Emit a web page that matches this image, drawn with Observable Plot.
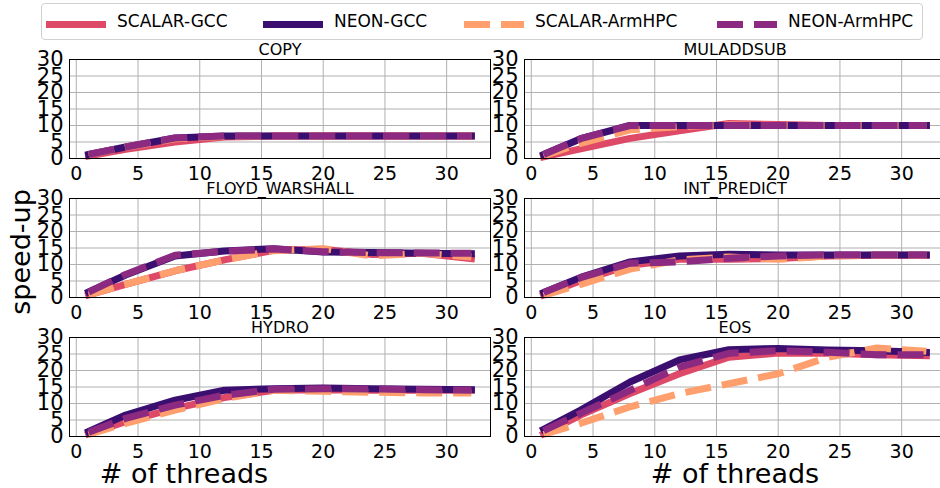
<!DOCTYPE html>
<html><head><meta charset="utf-8">
<script src="https://cdn.jsdelivr.net/npm/d3@7"></script>
<script src="https://cdn.jsdelivr.net/npm/@observablehq/plot@0.6"></script>
<style>
html,body{margin:0;padding:0;background:#fff;overflow:hidden;}
#chart{position:relative;width:940px;height:488px;overflow:hidden;font-family:"DejaVu Sans",sans-serif;color:#000;}
.panel{position:absolute;}
.lbl{position:absolute;white-space:nowrap;font-size:27px;line-height:1;}
#legend{position:absolute;left:41px;top:3px;width:880px;height:35px;border:1px solid #d0d0d0;border-radius:4px;background:#fff;}
.li{position:absolute;top:0;height:35px;}
.li span{position:absolute;top:9px;font-size:17px;line-height:1;white-space:nowrap;}
</style></head><body><div id="chart"></div>
<script>
const threads = [1, 4, 8, 12, 16, 20, 24, 28, 32];
const series = ["SCALAR-GCC", "NEON-GCC", "SCALAR-ArmHPC", "NEON-ArmHPC"];
const colors = ["#de4968", "#3b0f70", "#fe9f6d", "#8c2981"];
const benchmarks = ["COPY", "MULADDSUB", "FLOYD_WARSHALL", "INT_PREDICT", "HYDRO", "EOS"];
const xTicks = [0, 5, 10, 15, 20, 25, 30];
const yTicks = [0, 5, 10, 15, 20, 25, 30];

// speed-up values, order: SCALAR-GCC, NEON-GCC, SCALAR-ArmHPC, NEON-ArmHPC
const copy = [
  [0.8, 2.8, 5.0, 6.5, 6.8, 6.8, 6.8, 6.8, 6.8],
  [1.2, 3.5, 6.2, 6.8, 6.8, 6.8, 6.8, 6.8, 6.8],
  [1.1, 3.4, 6.0, 6.7, 6.8, 6.8, 6.8, 6.8, 6.8],
  [1.2, 3.5, 6.2, 6.8, 6.8, 6.8, 6.8, 6.8, 6.8]
];
const muladdsub = [
  [0.5, 2.9, 6.1, 8.4, 10.6, 10.3, 10.0, 10.0, 10.0],
  [1.2, 6.0, 10.0, 10.0, 10.0, 10.0, 10.0, 10.0, 10.0],
  [0.8, 4.6, 8.7, 9.7, 10.2, 10.0, 10.0, 10.0, 10.0],
  [1.2, 6.0, 10.0, 10.0, 10.0, 10.0, 10.0, 10.0, 10.0]
];
const floydWarshall = [
  [0.8, 4.0, 8.1, 11.4, 14.3, 14.6, 13.0, 13.4, 11.8],
  [1.7, 6.8, 12.6, 14.1, 14.8, 13.8, 13.6, 13.4, 13.3],
  [0.8, 4.0, 8.1, 11.4, 14.2, 14.8, 12.6, 13.4, 12.3],
  [1.6, 7.0, 12.8, 14.0, 14.7, 13.9, 13.6, 13.5, 13.4]
];
const intPredict = [
  [0.8, 5.1, 9.8, 11.6, 11.6, 11.8, 12.6, 12.8, 12.8],
  [1.5, 6.1, 10.8, 12.6, 13.1, 12.9, 12.9, 12.9, 12.9],
  [0.6, 4.0, 8.6, 11.4, 12.3, 11.6, 12.6, 12.8, 12.8],
  [1.5, 6.0, 10.4, 10.8, 11.9, 12.6, 12.9, 12.9, 12.9]
];
const hydro = [
  [0.8, 4.5, 8.5, 11.8, 14.0, 14.2, 14.0, 14.0, 14.0],
  [1.5, 6.5, 11.0, 14.0, 14.5, 14.7, 14.5, 14.3, 14.2],
  [0.6, 4.0, 8.0, 11.5, 14.0, 13.7, 13.4, 13.2, 13.2],
  [1.3, 5.5, 9.5, 12.5, 14.3, 14.5, 14.4, 14.2, 14.0]
];
const eos = [
  [0.8, 6.5, 13.0, 19.0, 24.0, 25.3, 25.2, 24.8, 24.5],
  [2.2, 8.0, 16.5, 23.2, 26.3, 26.7, 26.2, 26.0, 25.5],
  [0.6, 4.0, 9.0, 13.0, 16.0, 19.0, 24.0, 26.8, 25.8],
  [1.8, 7.0, 14.0, 21.0, 25.2, 26.0, 25.5, 24.8, 24.8]
];
const allData = [copy, muladdsub, floydWarshall, intPredict, hydro, eos];

const chart = document.getElementById("chart");
const FRAME_W = 421, FRAME_H = 99;
const ML = 60, MR = 10, MT = 26, MB = 32;
const colLeft = [69, 524];
const rowTop = [58.5, 197.7, 337];

function dashFor(i) { return (i === 2 || i === 3) ? "26,11" : null; }

benchmarks.forEach((name, bi) => {
  const col = bi % 2, row = Math.floor(bi / 2);
  const vals = allData[bi];
  const rows = [];
  vals.forEach((arr, si) => arr.forEach((v, ti) => rows.push({series: series[si], t: threads[ti], v})));
  const lineMarks = series.map((s, si) => Plot.line(rows.filter(d => d.series === s), {
    x: "t", y: "v", stroke: colors[si], strokeWidth: 7,
    strokeDasharray: dashFor(si),
    strokeLinecap: dashFor(si) ? "butt" : "square",
    strokeLinejoin: "round"
  }));
  const p = Plot.plot({
    width: ML + FRAME_W + MR, height: MT + FRAME_H + MB,
    marginLeft: ML, marginRight: MR, marginTop: MT, marginBottom: MB,
    style: {fontFamily: "DejaVu Sans", color: "black", background: "transparent", overflow: "visible"},
    x: {domain: [-0.55, 33.55]},
    y: {domain: [0, 30]},
    marks: [
      Plot.gridX(xTicks, {stroke: "#b0b0b0", strokeOpacity: 1, strokeWidth: 1}),
      Plot.gridY(yTicks, {stroke: "#b0b0b0", strokeOpacity: 1, strokeWidth: 1}),
      ...lineMarks,
      Plot.frame({stroke: "black", strokeWidth: 1}),
      Plot.axisX(xTicks, {tickSize: 0, tickPadding: 8, fontSize: 19, label: null}),
      Plot.axisY(yTicks, {tickSize: 0, tickPadding: 6, fontSize: 21, label: null}),
      Plot.text([name], {frameAnchor: "top", lineAnchor: "middle", dy: -10, fontSize: 16, fill: "black"})
    ]
  });
  p.classList.add("panel");
  p.style.left = (colLeft[col] - ML) + "px";
  p.style.top = (rowTop[row] - MT) + "px";
  chart.appendChild(p);
});

// axis labels
const yl = document.createElement("div");
yl.className = "lbl";
yl.textContent = "speed-up";
yl.style.left = "20px"; yl.style.top = "252px";
yl.style.transform = "translate(-50%,-50%) rotate(-90deg)";
chart.appendChild(yl);
[[184, "# of threads"], [735, "# of threads"]].forEach(([cx, t]) => {
  const d = document.createElement("div");
  d.className = "lbl";
  d.textContent = t;
  d.style.left = cx + "px"; d.style.top = "460px";
  d.style.transform = "translateX(-50%)";
  chart.appendChild(d);
});

// legend
const legend = document.createElement("div");
legend.id = "legend";
const legX = [4, 221, 422, 675];
series.forEach((s, i) => {
  const item = document.createElement("div");
  item.className = "li";
  item.style.left = legX[i] + "px";
  const svg = d3.create("svg").attr("width", 62).attr("height", 35).style("position", "absolute").style("left", "0px").style("top", "0px");
  svg.append("line").attr("x1", 0).attr("x2", 60).attr("y1", 20.5).attr("y2", 20.5)
    .attr("stroke", colors[i]).attr("stroke-width", 7)
    .attr("stroke-dasharray", dashFor(i)).attr("stroke-linecap", "butt");
  item.appendChild(svg.node());
  const sp = document.createElement("span");
  sp.textContent = s;
  sp.style.left = "71px";
  item.appendChild(sp);
  legend.appendChild(item);
});
chart.appendChild(legend);
</script>
</body></html>
